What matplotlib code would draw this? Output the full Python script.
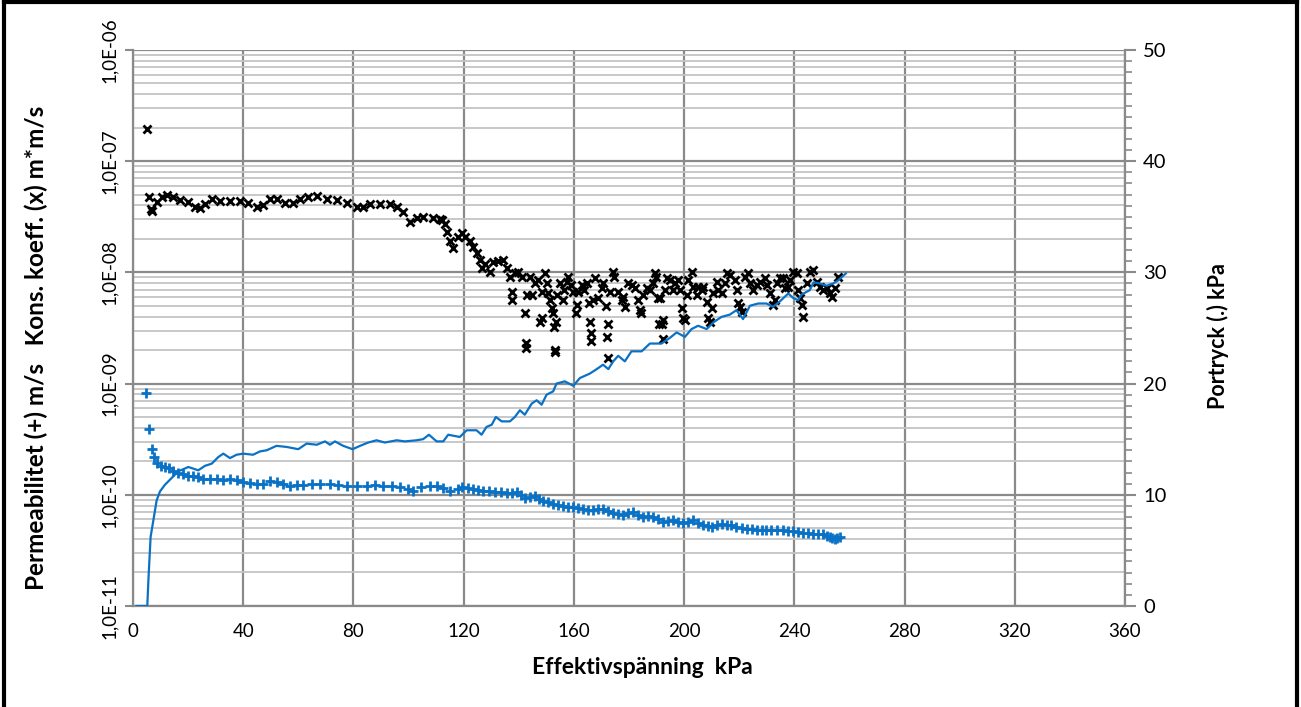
import numpy as np
import matplotlib
matplotlib.use("Agg")
import matplotlib.pyplot as plt
from matplotlib.lines import Line2D
from matplotlib.ticker import FixedLocator, FixedFormatter, MultipleLocator

plt.rcParams['font.family'] = ['Lato', 'DejaVu Sans']

# Kons. koeff. (x), m*m/s
kons_x = [5.1, 5.8, 6.5, 6.9, 8.7, 10.5, 12.3, 14.5, 17.1, 20.0, 22.5, 24.3, 26.1, 28.7, 31.6, 35.2,
          38.8, 41.7, 45.0, 47.2, 49.7, 52.2, 55.2, 58.1, 60.6, 63.5, 66.8, 70.4, 74.0, 77.6, 81.3,
          83.5, 86.0, 89.6, 93.3, 95.8, 98.0, 100.5, 103.0, 105.2, 108.9, 111.4, 112.1, 113.2, 113.9,
          115.0, 116.1, 117.9, 119.4, 120.5, 122.3, 123.4, 124.8, 125.9, 126.6, 127.7, 129.5, 130.6,
          132.4, 134.3, 135.7, 136.8, 137.5, 137.5, 138.6, 139.7, 141.1, 142.2, 142.6, 142.6, 143.0,
          144.0, 144.8, 145.9, 147.0, 147.7, 148.4, 148.4, 149.5, 150.2, 150.6, 151.3, 152.0, 152.4,
          152.8, 153.1, 153.1, 153.5, 153.8, 154.9, 156.0, 156.4, 157.5, 157.8, 158.9, 159.7, 160.7,
          161.1, 161.5, 162.9, 163.6, 164.7, 165.5, 165.8, 166.2, 166.2, 166.9, 167.6, 168.7, 170.2,
          170.5, 171.6, 172.4, 172.0, 172.4, 173.1, 174.2, 174.5, 176.0, 177.4, 177.8, 178.5, 179.6,
          181.1, 182.2, 183.2, 184.0, 184.3, 185.1, 186.5, 187.6, 188.7, 189.4, 189.8, 190.5, 190.9,
          191.2, 191.9, 192.3, 192.3, 193.0, 193.8, 194.8, 195.9, 196.7, 197.7, 198.5, 199.2, 199.6,
          200.3, 201.0, 201.4, 202.8, 203.2, 204.6, 205.0, 206.4, 206.8, 208.3, 208.6, 209.4, 210.1,
          210.4, 211.9, 212.3, 213.7, 214.8, 215.5, 216.6, 218.4, 219.2, 219.5, 220.2, 221.0, 222.1,
          223.1, 223.9, 225.0, 226.4, 227.5, 229.3, 230.0, 231.1, 232.2, 232.9, 233.7, 234.8, 235.8,
          236.6, 237.7, 238.4, 239.5, 240.9, 241.3, 242.0, 242.7, 243.1, 244.6, 245.6, 246.7, 248.2,
          249.3, 250.4, 251.8, 252.9, 253.6, 254.7, 255.8]
kons_y = [1.95e-7, 4.8e-8, 3.7e-8, 3.6e-8, 4.3e-8, 4.8e-8, 5.0e-8, 4.8e-8, 4.5e-8, 4.3e-8, 3.9e-8,
          3.8e-8, 4.1e-8, 4.6e-8, 4.4e-8, 4.4e-8, 4.4e-8, 4.2e-8, 3.9e-8, 4.0e-8, 4.6e-8, 4.6e-8,
          4.2e-8, 4.2e-8, 4.6e-8, 4.8e-8, 4.9e-8, 4.6e-8, 4.5e-8, 4.2e-8, 3.9e-8, 3.9e-8, 4.1e-8,
          4.1e-8, 4.1e-8, 3.9e-8, 3.5e-8, 2.85e-8, 3.1e-8, 3.15e-8, 3.1e-8, 3.0e-8, 2.95e-8, 2.7e-8,
          2.3e-8, 1.9e-8, 1.65e-8, 2.1e-8, 2.25e-8, 2.1e-8, 1.9e-8, 1.7e-8, 1.5e-8, 1.3e-8, 1.1e-8,
          1.2e-8, 1.0e-8, 1.25e-8, 1.27e-8, 1.3e-8, 1.1e-8, 9.1e-9, 6.7e-9, 5.65e-9, 9.9e-9, 1.0e-8,
          9.1e-9, 4.3e-9, 2.3e-9, 2.1e-9, 6.3e-9, 9.1e-9, 6.3e-9, 8.0e-9, 8.5e-9, 3.6e-9, 3.9e-9,
          6.7e-9, 9.9e-9, 8.0e-9, 6.5e-9, 5.65e-9, 4.8e-9, 4.3e-9, 3.2e-9, 2.0e-9, 1.92e-9, 3.6e-9,
          6.3e-9, 8.0e-9, 5.65e-9, 6.95e-9, 8.2e-9, 9.1e-9, 7.7e-9, 6.7e-9, 4.3e-9, 5.1e-9, 6.7e-9,
          7.7e-9, 6.95e-9, 8.0e-9, 5.3e-9, 3.6e-9, 2.85e-9, 2.4e-9, 5.65e-9, 8.9e-9, 5.9e-9, 7.25e-9,
          8.0e-9, 5.0e-9, 3.4e-9, 2.6e-9, 1.7e-9, 6.7e-9, 1.0e-8, 9.1e-9, 6.7e-9, 5.65e-9, 6.0e-9,
          4.9e-9, 8.0e-9, 7.7e-9, 7.25e-9, 5.65e-9, 4.6e-9, 4.3e-9, 6.3e-9, 7.25e-9, 6.95e-9, 8.0e-9,
          9.9e-9, 9.1e-9, 5.9e-9, 3.4e-9, 5.9e-9, 3.4e-9, 3.7e-9, 2.5e-9, 6.95e-9, 8.9e-9, 8.55e-9,
          6.95e-9, 8.0e-9, 8.55e-9, 6.95e-9, 4.8e-9, 3.9e-9, 3.7e-9, 6.3e-9, 8.55e-9, 1.0e-8, 7.4e-9,
          6.3e-9, 7.4e-9, 6.95e-9, 7.4e-9, 5.4e-9, 3.9e-9, 3.6e-9, 4.8e-9, 6.5e-9, 8.2e-9, 6.95e-9,
          6.5e-9, 8.0e-9, 9.9e-9, 9.5e-9, 8.55e-9, 6.95e-9, 5.3e-9, 4.9e-9, 4.4e-9, 9.1e-9, 9.9e-9,
          8.0e-9, 6.95e-9, 7.7e-9, 8.2e-9, 8.9e-9, 7.7e-9, 6.5e-9, 5.1e-9, 5.65e-9, 8.0e-9, 8.9e-9,
          8.9e-9, 7.25e-9, 7.4e-9, 8.55e-9, 1.0e-8, 9.9e-9, 6.95e-9, 5.9e-9, 5.1e-9, 4.0e-9, 8.0e-9,
          1.0e-8, 1.05e-8, 8.2e-9, 7.4e-9, 6.95e-9, 7.25e-9, 6.5e-9, 6.0e-9, 7.25e-9, 9.1e-9]

# Permeabilitet (+), m/s
perm_x = [4.7, 5.9, 6.8, 7.6, 8.6, 10.0, 11.6, 13.2, 14.6, 16.4, 18.3, 20.1, 21.9, 23.7, 25.5, 27.9,
          30.4, 32.8, 35.2, 37.6, 40.0, 42.5, 44.9, 47.3, 49.7, 52.1, 54.5, 57.0, 59.4, 61.8, 64.8,
          67.9, 71.5, 74.5, 77.5, 81.2, 84.8, 87.8, 90.8, 93.9, 96.9, 99.9, 101.7, 104.7, 107.8,
          110.2, 112.6, 115.0, 118.0, 119.3, 121.5, 123.5, 125.3, 127.1, 129.2, 131.4, 133.5, 135.6,
          137.4, 139.2, 140.7, 142.2, 144.0, 145.9, 147.4, 148.9, 150.7, 152.5, 154.3, 156.1, 158.0,
          159.8, 161.6, 163.4, 165.2, 167.0, 168.8, 170.6, 172.5, 174.3, 176.1, 177.9, 179.7, 181.5,
          183.4, 185.2, 187.0, 188.8, 190.6, 192.4, 194.2, 196.0, 197.9, 199.7, 201.5, 203.3, 205.1,
          206.9, 208.5, 210.0, 211.8, 213.6, 215.4, 217.2, 219.0, 220.9, 222.7, 224.5, 226.3, 228.1,
          229.9, 231.7, 233.8, 236.0, 237.8, 239.6, 241.4, 243.2, 245.0, 246.8, 248.7, 250.5, 251.7,
          252.9, 253.8, 254.7, 255.6, 256.5]
perm_y = [8.2e-10, 3.9e-10, 2.58e-10, 2.19e-10, 1.93e-10, 1.82e-10, 1.77e-10, 1.73e-10, 1.65e-10,
          1.58e-10, 1.54e-10, 1.49e-10, 1.46e-10, 1.43e-10, 1.40e-10, 1.39e-10, 1.38e-10, 1.36e-10,
          1.39e-10, 1.35e-10, 1.29e-10, 1.27e-10, 1.25e-10, 1.24e-10, 1.33e-10, 1.30e-10, 1.25e-10,
          1.20e-10, 1.22e-10, 1.23e-10, 1.24e-10, 1.26e-10, 1.25e-10, 1.22e-10, 1.19e-10, 1.19e-10,
          1.20e-10, 1.22e-10, 1.20e-10, 1.19e-10, 1.17e-10, 1.12e-10, 1.09e-10, 1.17e-10, 1.19e-10,
          1.19e-10, 1.14e-10, 1.09e-10, 1.12e-10, 1.17e-10, 1.15e-10, 1.12e-10, 1.10e-10, 1.09e-10,
          1.08e-10, 1.07e-10, 1.05e-10, 1.03e-10, 1.04e-10, 1.05e-10, 9.9e-11, 9.3e-11, 9.6e-11,
          9.8e-11, 9.1e-11, 8.7e-11, 8.6e-11, 8.3e-11, 8.1e-11, 7.9e-11, 7.8e-11, 7.7e-11, 7.6e-11,
          7.4e-11, 7.3e-11, 7.3e-11, 7.4e-11, 7.4e-11, 7.1e-11, 6.8e-11, 6.7e-11, 6.6e-11, 6.8e-11,
          7.0e-11, 6.6e-11, 6.3e-11, 6.4e-11, 6.3e-11, 6.0e-11, 5.7e-11, 5.8e-11, 5.9e-11, 5.7e-11,
          5.55e-11, 5.7e-11, 5.9e-11, 5.6e-11, 5.35e-11, 5.2e-11, 5.1e-11, 5.3e-11, 5.5e-11, 5.4e-11,
          5.3e-11, 5.1e-11, 5.0e-11, 4.95e-11, 4.9e-11, 4.85e-11, 4.8e-11, 4.8e-11, 4.8e-11, 4.85e-11,
          4.85e-11, 4.75e-11, 4.7e-11, 4.6e-11, 4.55e-11, 4.5e-11, 4.45e-11, 4.4e-11, 4.4e-11,
          4.25e-11, 4.15e-11, 4.05e-11, 4.0e-11, 4.1e-11, 4.2e-11]

# Portryck (.), kPa
por_x = [1.3, 5.2, 5.6, 6.4, 7.4, 8.6, 9.8, 11.6, 14.0, 16.4, 20.1, 23.7, 26.1, 28.6, 31.0, 32.8,
         35.2, 37.6, 40.0, 43.6, 46.1, 48.5, 52.1, 55.8, 60.0, 63.0, 66.7, 69.7, 71.5, 73.3, 76.3,
         79.7, 82.4, 85.4, 88.4, 91.4, 95.7, 98.7, 102.9, 105.3, 107.4, 110.2, 112.6, 114.4, 118.6,
         121.1, 124.7, 126.5, 128.3, 130.2, 131.7, 133.8, 136.8, 138.6, 140.4, 142.2, 144.7, 146.5,
         148.3, 150.1, 152.5, 153.7, 156.7, 159.8, 162.2, 165.8, 168.3, 170.6, 172.5, 174.3, 176.1,
         178.5, 180.9, 184.6, 187.6, 191.8, 194.8, 197.3, 200.3, 202.7, 205.1, 208.2, 210.6, 213.6,
         216.6, 219.0, 221.4, 223.9, 226.9, 229.9, 232.3, 234.8, 237.8, 239.6, 241.4, 242.6, 245.6,
         247.0, 249.3, 251.7, 254.1, 256.0, 258.7]
por_y = [0.0, 0.0, 2.3, 6.2, 7.7, 9.5, 10.3, 10.9, 11.5, 12.1, 12.5, 12.2, 12.6, 12.8, 13.4, 13.7,
         13.3, 13.6, 13.7, 13.6, 13.9, 14.0, 14.4, 14.3, 14.1, 14.6, 14.5, 14.8, 14.5, 14.8, 14.4,
         14.1, 14.4, 14.7, 14.9, 14.7, 14.9, 14.8, 14.9, 15.0, 15.4, 14.8, 14.8, 15.4, 15.2, 15.8,
         15.8, 15.4, 16.1, 16.3, 17.0, 16.6, 16.6, 17.0, 17.6, 17.2, 18.2, 18.5, 18.1, 19.0, 19.3,
         20.0, 20.2, 19.8, 20.5, 20.9, 21.3, 21.7, 21.3, 22.0, 22.5, 22.0, 22.9, 22.9, 23.6, 23.6,
         24.1, 24.6, 24.2, 24.9, 25.2, 24.9, 25.5, 26.0, 26.2, 26.6, 25.8, 27.0, 27.2, 27.2, 26.9,
         27.4, 28.1, 27.7, 27.5, 28.0, 28.4, 29.1, 29.0, 28.8, 29.0, 29.3, 29.9]

x_ticks = list(range(0, 361, 40))
log_ticks = [1e-11, 1e-10, 1e-9, 1e-8, 1e-7, 1e-6]
log_labels = ['1,0E-11', '1,0E-10', '1,0E-09', '1,0E-08', '1,0E-07', '1,0E-06']
right_ticks = [0, 10, 20, 30, 40, 50]

blue = '#0a72c6'
major_grid = '#8a8a8a'
minor_grid = '#c4c4c4'

fig = plt.figure(figsize=(13.01, 7.07), dpi=100)
ax = fig.add_axes([0.1022, 0.1429, 0.7625, 0.7864])
ax.set_yscale('log')
ax.set_xlim(0, 360)
ax.set_ylim(1e-11, 1e-6)

minor_pos = [m * 10.0 ** e for e in range(-11, -6) for m in range(2, 10)]
ax.yaxis.set_major_locator(FixedLocator(log_ticks))
ax.yaxis.set_major_formatter(FixedFormatter(log_labels))
ax.yaxis.set_minor_locator(FixedLocator(minor_pos))
ax.yaxis.set_minor_formatter(FixedFormatter([''] * len(minor_pos)))
ax.xaxis.set_major_locator(FixedLocator(x_ticks))

ax.grid(True, which='major', axis='both', color=major_grid, lw=1.6)
ax.grid(True, which='minor', axis='y', color=minor_grid, lw=1.3)
ax.set_axisbelow(True)

for side in ['top', 'right']:
    ax.spines[side].set_visible(False)
for side in ['left', 'bottom']:
    ax.spines[side].set_color(major_grid)
    ax.spines[side].set_linewidth(1.6)

ax.tick_params(axis='x', length=0, pad=12, labelsize=13.5)
ax.tick_params(axis='y', which='major', length=6, width=1.5, color=major_grid, pad=5, labelsize=13.5)
ax.tick_params(axis='y', which='minor', length=0)
for lab in ax.get_yticklabels():
    lab.set_rotation(90)
    lab.set_va('center')

ax.plot(perm_x, perm_y, ls='none', marker='+', ms=6.5, mew=2, color=blue, clip_on=False)
ax.plot(kons_x, kons_y, ls='none', marker='x', ms=5.5, mew=2, color='black')

ax.set_xlabel('Effektivspänning  kPa', fontsize=16.5, fontweight='bold')
ax.xaxis.set_label_coords(0.514, -0.092)
ax.set_ylabel('Permeabilitet (+) m/s   Kons. koeff. (x) m*m/s', fontsize=17.5, fontweight='bold')
ax.yaxis.set_label_coords(-0.0857, 0.464)

ax2 = ax.twinx()
ax2.set_ylim(0, 50)
ax2.plot(por_x, por_y, color=blue, lw=1.6)
ax2.yaxis.set_major_locator(FixedLocator(right_ticks))
ax2.yaxis.set_minor_locator(MultipleLocator(1))
ax2.tick_params(axis='y', which='major', length=8, width=1.5, color=major_grid, pad=5, labelsize=14.5)
ax2.tick_params(axis='y', which='minor', length=5, width=1.2, color=major_grid)
for side in ['top', 'left', 'bottom']:
    ax2.spines[side].set_visible(False)
ax2.spines['right'].set_color(major_grid)
ax2.spines['right'].set_linewidth(1.6)
ax2.set_ylabel('Portryck (.) kPa', fontsize=15.5, fontweight='bold')
ax2.yaxis.set_label_coords(1.0827, 0.485)

# outer frame
for xs, ys in [([0.003, 0.003], [0, 0.998]), ([0.003, 0.997], [0.997, 0.997]), ([0.997, 0.997], [0, 0.998])]:
    fig.add_artist(Line2D(xs, ys, color='black', lw=3, transform=fig.transFigure))

fig.savefig('out.png', dpi=100)
